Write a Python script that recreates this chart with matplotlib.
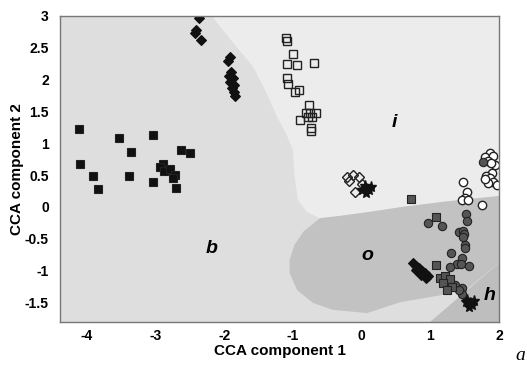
import matplotlib
matplotlib.use("Agg")
from matplotlib import pyplot as plt

plt.rcParams['font.family'] = ['Liberation Sans', 'DejaVu Sans']

# region boundaries
region_i_x = [-2.18, 2.0, 2.0, 1.2, 0.6, 0.12, -0.3, -0.61, -0.80, -0.93, -0.98, -1.0, -1.1, -1.23, -1.40, -1.58, -1.85, -2.06, -2.18]
region_i_y = [3.0, 3.0, 0.17, 0.08, 0.0, -0.08, -0.14, -0.18, -0.08, 0.11, 0.5, 0.89, 1.15, 1.41, 1.82, 2.2, 2.55, 2.83, 3.0]

region_o_x = [-0.61, -0.3, 0.12, 0.6, 1.2, 2.0, 2.0, 1.53, 1.1, 0.56, 0.08, -0.42, -0.71, -0.94, -1.05, -1.05, -0.98, -0.84, -0.70]
region_o_y = [-0.18, -0.14, -0.08, 0.0, 0.08, 0.17, -0.88, -1.30, -1.40, -1.50, -1.67, -1.62, -1.51, -1.31, -1.04, -0.84, -0.60, -0.38, -0.26]

region_h_x = [0.99, 2.0, 2.0]
region_h_y = [-1.81, -1.81, -0.88]

# filled black squares
sq_x = [-4.12, -3.53, -3.04, -3.36, -2.63, -2.50, -4.10, -3.91, -3.39, -3.84, -3.04, -2.89, -2.94, -2.88, -2.79, -2.72, -2.75, -2.70]
sq_y = [1.22, 1.08, 1.13, 0.86, 0.89, 0.85, 0.67, 0.48, 0.48, 0.28, 0.39, 0.67, 0.63, 0.56, 0.59, 0.50, 0.45, 0.30]

# filled black diamonds
dm_x = [-2.37, -2.41, -2.43, -2.34, -1.92, -1.95, -1.90, -1.93, -1.87, -1.92, -1.86, -1.89, -1.86, -1.85,
        0.75, 0.79, 0.83, 0.88, 0.92, 0.96, 0.79, 0.86, 0.94]
dm_y = [2.97, 2.78, 2.73, 2.62, 2.36, 2.29, 2.12, 2.06, 2.03, 1.96, 1.92, 1.87, 1.80, 1.74,
        -0.88, -0.93, -0.96, -1.01, -1.04, -1.09, -0.99, -1.07, -1.12]

# open squares
osq_x = [-1.10, -1.09, -1.00, -1.09, -0.94, -0.70, -1.09, -1.07, -0.97, -0.91, -0.77, -0.81, -0.75, -0.67, -0.78, -0.72, -0.90, -0.74, -0.74]
osq_y = [2.65, 2.61, 2.40, 2.25, 2.23, 2.26, 2.03, 1.93, 1.81, 1.84, 1.60, 1.47, 1.47, 1.47, 1.41, 1.41, 1.36, 1.24, 1.19]

# open diamonds
odm_x = [-0.13, -0.19, -0.04, -0.10, -0.22, 0.0]
odm_y = [0.50, 0.41, 0.47, 0.23, 0.47, 0.36]

# black stars
st_x = [0.05, 0.10, 0.06, 0.13, 0.01, 1.52, 1.60, 1.56, 1.63, 1.54, 1.58]
st_y = [0.33, 0.26, 0.22, 0.31, 0.26, -1.50, -1.54, -1.58, -1.48, -1.47, -1.52]

# open circles
oc_x = [1.87, 1.79, 1.91, 1.84, 1.94, 1.88, 1.90, 1.81, 1.87, 1.91, 1.97, 1.84, 1.79, 1.47, 1.53, 1.50, 1.46, 1.55, 1.75]
oc_y = [0.85, 0.78, 0.80, 0.72, 0.66, 0.69, 0.53, 0.48, 0.45, 0.39, 0.34, 0.37, 0.44, 0.39, 0.23, 0.14, 0.11, 0.11, 0.03]

# dark gray circles
gc_x = [1.76, 1.52, 1.53, 0.96, 1.17, 1.41, 1.47, 1.49, 1.47, 1.50, 1.50, 1.30, 1.46, 1.39, 1.44, 1.28, 1.56, 1.46, 1.46, 1.36, 1.41]
gc_y = [0.70, -0.11, -0.22, -0.25, -0.30, -0.40, -0.38, -0.43, -0.47, -0.60, -0.65, -0.73, -0.81, -0.90, -0.90, -0.95, -0.93, -1.28, -1.37, -1.23, -1.31]

# dark gray squares
gs_x = [0.72, 1.08, 1.08, 1.14, 1.21, 1.28, 1.18, 1.31, 1.24]
gs_y = [0.12, -0.16, -0.92, -1.12, -1.09, -1.14, -1.20, -1.26, -1.31]

fig, ax = plt.subplots(figsize=(5.27, 3.65), dpi=100)
fig.subplots_adjust(left=0.1139, right=0.9469, bottom=0.1178, top=0.9562)
ax.set_facecolor('#dedede')

ax.fill(region_i_x, region_i_y, color='#ececec', lw=0, zorder=0)
ax.fill(region_o_x, region_o_y, color='#c2c2c2', lw=0, zorder=0)
ax.fill(region_h_x, region_h_y, color='#bebebe', lw=0, zorder=0)

ax.plot(sq_x, sq_y, 's', color='#111111', mec='#222222', ms=5.5, mew=0.8)
ax.plot(dm_x, dm_y, 'D', color='#111111', mec='#111111', ms=5.2, mew=0.8)
ax.plot(osq_x, osq_y, 's', mfc='none', mec='#222222', ms=5.5, mew=1.0)
ax.plot(odm_x, odm_y, 'D', mfc='none', mec='#222222', ms=5, mew=1.0)
ax.plot(st_x, st_y, '*', color='#111111', mec='#111111', ms=8, mew=1.0)
ax.plot(oc_x, oc_y, 'o', mfc='white', mec='#222222', ms=6, mew=1.0)
ax.plot(gc_x, gc_y, 'o', mfc='#555555', mec='#222222', ms=6, mew=0.8)
ax.plot(gs_x, gs_y, 's', mfc='#555555', mec='#222222', ms=5.5, mew=0.8)

ax.set_xlim(-4.393, 2.0)
ax.set_ylim(-1.811, 3.0)
ax.set_xticks([-4, -3, -2, -1, 0, 1, 2])
ax.set_xticklabels(['-4', '-3', '-2', '-1', '0', '1', '2'])
ax.set_yticks([-1.5, -1, -0.5, 0, 0.5, 1, 1.5, 2, 2.5, 3])
ax.set_yticklabels(['-1.5', '-1', '-0.5', '0', '0.5', '1', '1.5', '2', '2.5', '3'])
ax.tick_params(axis='y', length=0, labelsize=10, pad=8)
ax.tick_params(axis='x', length=0, labelsize=10, pad=5)
for lab in ax.get_xticklabels() + ax.get_yticklabels():
    lab.set_fontweight('bold')
for sp in ax.spines.values():
    sp.set_color('#777777')
    sp.set_linewidth(1.0)

ax.set_xlabel('CCA component 1', fontsize=11, fontweight='bold', labelpad=1)
ax.set_ylabel('CCA component 2', fontsize=11, fontweight='bold', labelpad=1)

ax.text(-2.18, -0.65, 'b', fontsize=14, fontweight='bold', style='italic', ha='center', va='center')
ax.text(0.48, 1.32, 'i', fontsize=14, fontweight='bold', style='italic', ha='center', va='center')
ax.text(0.08, -0.76, 'o', fontsize=14, fontweight='bold', style='italic', ha='center', va='center')
ax.text(1.87, -1.40, 'h', fontsize=14, fontweight='bold', style='italic', ha='center', va='center')
fig.text(520 / 527, 1 - 355 / 365, 'a', fontsize=14, style='italic', family='Liberation Serif', ha='center', va='center')

plt.savefig('out.png', dpi=100)
